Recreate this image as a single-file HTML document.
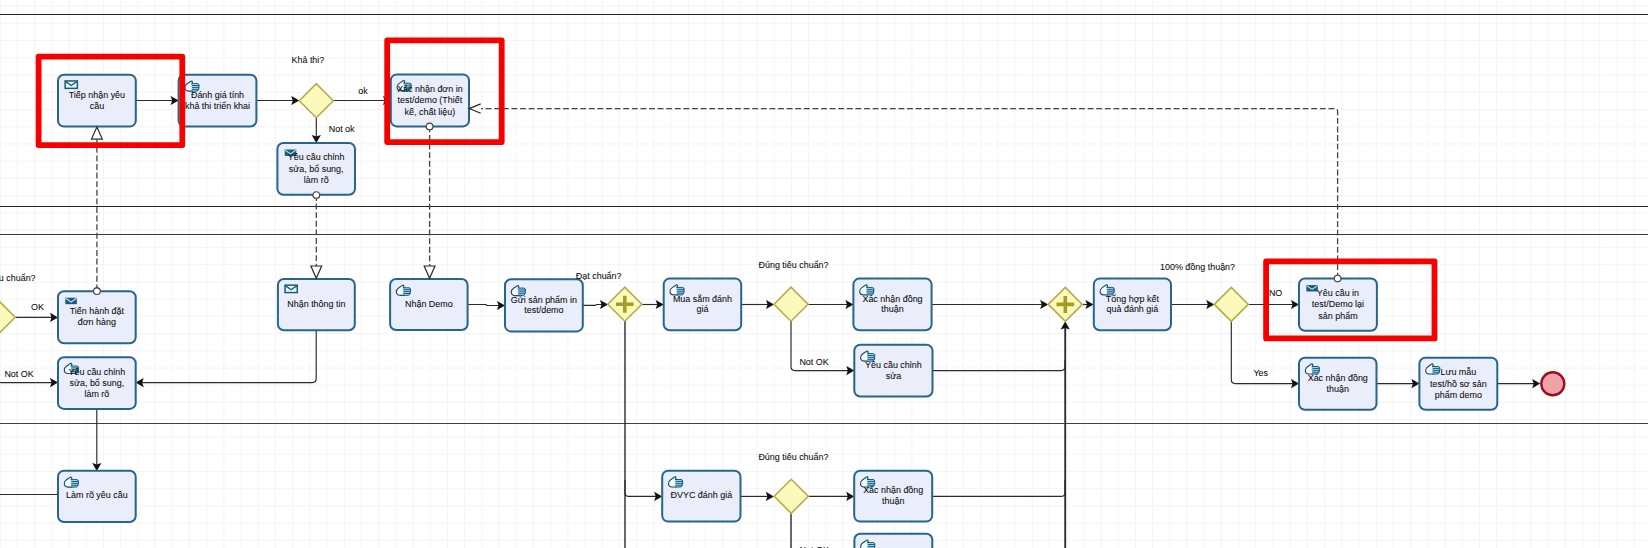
<!DOCTYPE html>
<html><head><meta charset="utf-8"><title>BPMN</title>
<style>
html,body{margin:0;padding:0;background:#fff;width:1648px;height:548px;overflow:hidden;}
svg{display:block;}
text{font-family:"Liberation Sans",sans-serif;}
</style></head><body>
<svg width="1648" height="548" viewBox="0 0 1648 548">
<rect width="1648" height="548" fill="#ffffff"/>
<path d="M0.30 0V548M17.50 0V548M34.70 0V548M51.90 0V548M69.10 0V548M86.30 0V548M103.49 0V548M120.69 0V548M137.89 0V548M155.09 0V548M172.29 0V548M189.49 0V548M206.69 0V548M223.89 0V548M241.09 0V548M258.29 0V548M275.48 0V548M292.68 0V548M309.88 0V548M327.08 0V548M344.28 0V548M361.48 0V548M378.68 0V548M395.88 0V548M413.08 0V548M430.28 0V548M447.47 0V548M464.67 0V548M481.87 0V548M499.07 0V548M516.27 0V548M533.47 0V548M550.67 0V548M567.87 0V548M585.07 0V548M602.26 0V548M619.46 0V548M636.66 0V548M653.86 0V548M671.06 0V548M688.26 0V548M705.46 0V548M722.66 0V548M739.86 0V548M757.06 0V548M774.25 0V548M791.45 0V548M808.65 0V548M825.85 0V548M843.05 0V548M860.25 0V548M877.45 0V548M894.65 0V548M911.85 0V548M929.05 0V548M946.24 0V548M963.44 0V548M980.64 0V548M997.84 0V548M1015.04 0V548M1032.24 0V548M1049.44 0V548M1066.64 0V548M1083.84 0V548M1101.04 0V548M1118.23 0V548M1135.43 0V548M1152.63 0V548M1169.83 0V548M1187.03 0V548M1204.23 0V548M1221.43 0V548M1238.63 0V548M1255.83 0V548M1273.03 0V548M1290.22 0V548M1307.42 0V548M1324.62 0V548M1341.82 0V548M1359.02 0V548M1376.22 0V548M1393.42 0V548M1410.62 0V548M1427.82 0V548M1445.02 0V548M1462.22 0V548M1479.41 0V548M1496.61 0V548M1513.81 0V548M1531.01 0V548M1548.21 0V548M1565.41 0V548M1582.61 0V548M1599.81 0V548M1617.01 0V548M1634.21 0V548M0 6.10H1648M0 23.34H1648M0 40.57H1648M0 57.80H1648M0 75.04H1648M0 92.27H1648M0 109.51H1648M0 126.74H1648M0 143.98H1648M0 161.21H1648M0 178.45H1648M0 195.69H1648M0 212.92H1648M0 230.16H1648M0 247.39H1648M0 264.63H1648M0 281.86H1648M0 299.10H1648M0 316.33H1648M0 333.57H1648M0 350.80H1648M0 368.04H1648M0 385.27H1648M0 402.51H1648M0 419.74H1648M0 436.98H1648M0 454.21H1648M0 471.45H1648M0 488.68H1648M0 505.92H1648M0 523.15H1648M0 540.39H1648" stroke="#f4f4f4" stroke-width="1" fill="none"/>
<rect x="0" y="14" width="1648" height="1" fill="#222"/>
<rect x="0" y="206" width="1648" height="1" fill="#222"/>
<rect x="0" y="234" width="1648" height="1" fill="#383838"/>
<rect x="0" y="423" width="1648" height="1" fill="#404040"/>
<g font-family="Liberation Sans, sans-serif" font-size="8.95" fill="#0a0a0a" stroke="#0a0a0a" stroke-width="0.06">
<path d="M96.9 291.2L96.9 140" fill="none" stroke="#464646" stroke-width="1.3" stroke-dasharray="5.9 2.7" stroke-dashoffset="-0.9"/>
<circle cx="96.9" cy="291.2" r="3.3" fill="#ffffff" stroke="#464646" stroke-width="1.1"/>
<path d="M316.3 195.0L316.3 267" fill="none" stroke="#464646" stroke-width="1.3" stroke-dasharray="5.9 2.7" stroke-dashoffset="0"/>
<circle cx="316.3" cy="195.0" r="3.3" fill="#ffffff" stroke="#464646" stroke-width="1.1"/>
<path d="M429.6 126.4L429.6 267" fill="none" stroke="#464646" stroke-width="1.3" stroke-dasharray="5.9 2.7" stroke-dashoffset="0"/>
<circle cx="429.6" cy="126.4" r="3.3" fill="#ffffff" stroke="#464646" stroke-width="1.1"/>
<path d="M1337.6 278.6L1337.60 111.60Q1337.6 108.6 1334.60 108.60L481 108.6" fill="none" stroke="#464646" stroke-width="1.3" stroke-dasharray="5.9 2.7" stroke-dashoffset="0"/>
<circle cx="1337.6" cy="278.6" r="3.3" fill="#ffffff" stroke="#464646" stroke-width="1.1"/>
<path d="M135.8 100.5L172.6 100.5" fill="none" stroke="#2a2a2a" stroke-width="1.15"/>
<path d="M178.60 100.50L170.60 95.90L172.20 100.50L170.60 105.10Z" fill="#111"/>
<path d="M256.4 100.5L293.3 100.5" fill="none" stroke="#2a2a2a" stroke-width="1.15"/>
<path d="M299.30 100.50L291.30 95.90L292.90 100.50L291.30 105.10Z" fill="#111"/>
<path d="M333.3 100.5L385 100.5" fill="none" stroke="#2a2a2a" stroke-width="1.15"/>
<path d="M391.00 100.50L383.00 95.90L384.60 100.50L383.00 105.10Z" fill="#111"/>
<path d="M316.3 117.7L316.3 137" fill="none" stroke="#2a2a2a" stroke-width="1.15"/>
<path d="M316.30 143.00L311.70 135.00L316.30 136.60L320.90 135.00Z" fill="#111"/>
<path d="M15.4 317.4L52.0 317.4" fill="none" stroke="#2a2a2a" stroke-width="1.15"/>
<path d="M58.00 317.40L50.00 312.80L51.60 317.40L50.00 322.00Z" fill="#111"/>
<path d="M-3 334L-3.00 378.60Q-3 382.6 1.00 382.60L52 382.6" fill="none" stroke="#2a2a2a" stroke-width="1.15"/>
<path d="M58.00 382.60L50.00 378.00L51.60 382.60L50.00 387.20Z" fill="#111"/>
<path d="M316.2 330.3L316.20 378.60Q316.2 382.6 312.20 382.60L141.7 382.6" fill="none" stroke="#2a2a2a" stroke-width="1.15"/>
<path d="M135.70 382.60L143.70 378.00L142.10 382.60L143.70 387.20Z" fill="#111"/>
<path d="M96.8 409L96.8 465" fill="none" stroke="#2a2a2a" stroke-width="1.15"/>
<path d="M96.80 471.00L92.20 463.00L96.80 464.60L101.40 463.00Z" fill="#111"/>
<path d="M0 494.5L58 494.5" fill="none" stroke="#2a2a2a" stroke-width="1.15"/>
<path d="M467.6 304.5L485.60 304.50Q486 304.5 486.28 304.78L486.72 305.22Q487 305.5 487.40 305.50L499.0 305.5" fill="none" stroke="#2a2a2a" stroke-width="1.15"/>
<path d="M505.00 305.50L497.00 300.90L498.60 305.50L497.00 310.10Z" fill="#111"/>
<path d="M582.8 305.4L595.10 305.40Q595.5 305.4 595.80 305.13L596.20 304.77Q596.5 304.5 596.90 304.50L602 304.5" fill="none" stroke="#2a2a2a" stroke-width="1.15"/>
<path d="M608.00 304.50L600.00 299.90L601.60 304.50L600.00 309.10Z" fill="#111"/>
<path d="M641.6 304.5L657.7 304.5" fill="none" stroke="#2a2a2a" stroke-width="1.15"/>
<path d="M663.70 304.50L655.70 299.90L657.30 304.50L655.70 309.10Z" fill="#111"/>
<path d="M625 321L625 548" fill="none" stroke="#2a2a2a" stroke-width="1.4"/>
<path d="M625 480L625.00 492.40Q625 496.4 629.00 496.40L656.2 496.4" fill="none" stroke="#2a2a2a" stroke-width="1.15"/>
<path d="M662.20 496.40L654.20 491.80L655.80 496.40L654.20 501.00Z" fill="#111"/>
<path d="M741.3 304.5L768 304.5" fill="none" stroke="#2a2a2a" stroke-width="1.15"/>
<path d="M774.00 304.50L766.00 299.90L767.60 304.50L766.00 309.10Z" fill="#111"/>
<path d="M808.2 304.5L847.4 304.5" fill="none" stroke="#2a2a2a" stroke-width="1.15"/>
<path d="M853.40 304.50L845.40 299.90L847.00 304.50L845.40 309.10Z" fill="#111"/>
<path d="M791 321L791.00 366.60Q791 370.6 795.00 370.60L848.3 370.6" fill="none" stroke="#2a2a2a" stroke-width="1.15"/>
<path d="M854.30 370.60L846.30 366.00L847.90 370.60L846.30 375.20Z" fill="#111"/>
<path d="M931.6 304.5L1042.2 304.5" fill="none" stroke="#2a2a2a" stroke-width="1.15"/>
<path d="M1048.20 304.50L1040.20 299.90L1041.80 304.50L1040.20 309.10Z" fill="#111"/>
<path d="M932.5 370.6L1061.00 370.60Q1065 370.6 1065.00 366.60L1065 360" fill="none" stroke="#2a2a2a" stroke-width="1.15"/>
<path d="M1065.2 548L1065.2 327.6" fill="none" stroke="#2a2a2a" stroke-width="1.8"/>
<path d="M1065.20 321.60L1060.60 329.60L1065.20 328.00L1069.80 329.60Z" fill="#111"/>
<path d="M932.2 496.4L1061.00 496.40Q1065 496.4 1065.00 492.40L1065 480" fill="none" stroke="#2a2a2a" stroke-width="1.15"/>
<path d="M1082.4 304.5L1087.5 304.5" fill="none" stroke="#2a2a2a" stroke-width="1.15"/>
<path d="M1093.50 304.50L1085.50 299.90L1087.10 304.50L1085.50 309.10Z" fill="#111"/>
<path d="M1171.0 304.5L1208.3 304.5" fill="none" stroke="#2a2a2a" stroke-width="1.15"/>
<path d="M1214.30 304.50L1206.30 299.90L1207.90 304.50L1206.30 309.10Z" fill="#111"/>
<path d="M1248.3 304.5L1293.0 304.5" fill="none" stroke="#2a2a2a" stroke-width="1.15"/>
<path d="M1299.00 304.50L1291.00 299.90L1292.60 304.50L1291.00 309.10Z" fill="#111"/>
<path d="M1231.3 321.4L1231.30 379.60Q1231.3 383.6 1235.30 383.60L1293.0 383.6" fill="none" stroke="#2a2a2a" stroke-width="1.15"/>
<path d="M1299.00 383.60L1291.00 379.00L1292.60 383.60L1291.00 388.20Z" fill="#111"/>
<path d="M1376.5 383.6L1413.4 383.6" fill="none" stroke="#2a2a2a" stroke-width="1.15"/>
<path d="M1419.40 383.60L1411.40 379.00L1413.00 383.60L1411.40 388.20Z" fill="#111"/>
<path d="M1497.3 383.6L1534.2 383.6" fill="none" stroke="#2a2a2a" stroke-width="1.15"/>
<path d="M1540.20 383.60L1532.20 379.00L1533.80 383.60L1532.20 388.20Z" fill="#111"/>
<path d="M740.5 496.4L767.8 496.4" fill="none" stroke="#2a2a2a" stroke-width="1.15"/>
<path d="M773.80 496.40L765.80 491.80L767.40 496.40L765.80 501.00Z" fill="#111"/>
<path d="M808.7 496.4L848.2 496.4" fill="none" stroke="#2a2a2a" stroke-width="1.15"/>
<path d="M854.20 496.40L846.20 491.80L847.80 496.40L846.20 501.00Z" fill="#111"/>
<path d="M791 513.4L791 548" fill="none" stroke="#2a2a2a" stroke-width="1.4"/>
<path d="M299.3 100.7L316.3 83.7L333.3 100.7L316.3 117.7Z" fill="#fcf9bd" stroke="#b3ad4a" stroke-width="1.6"/>
<path d="M-18.8 317.2L-1.8 300.2L15.2 317.2L-1.8 334.2Z" fill="#fcf9bd" stroke="#b3ad4a" stroke-width="1.6"/>
<path d="M607.8 304.2L624.8 287.2L641.8 304.2L624.8 321.2Z" fill="#fcf9bd" stroke="#b3ad4a" stroke-width="1.6"/>
<path d="M616.0 304.2H633.5999999999999M624.8 295.7V312.7" stroke="#a39e22" stroke-width="3.6"/>
<path d="M774.0 304.2L791.0 287.2L808.0 304.2L791.0 321.2Z" fill="#fcf9bd" stroke="#b3ad4a" stroke-width="1.6"/>
<path d="M1048.3 304.4L1065.3 287.4L1082.3 304.4L1065.3 321.4Z" fill="#fcf9bd" stroke="#b3ad4a" stroke-width="1.6"/>
<path d="M1056.5 304.4H1074.1M1065.3 295.9V312.9" stroke="#a39e22" stroke-width="3.6"/>
<path d="M1214.3 304.4L1231.3 287.4L1248.3 304.4L1231.3 321.4Z" fill="#fcf9bd" stroke="#b3ad4a" stroke-width="1.6"/>
<path d="M774.2 496.3L791.2 479.3L808.2 496.3L791.2 513.3Z" fill="#fcf9bd" stroke="#b3ad4a" stroke-width="1.6"/>
<rect x="58.0" y="74.8" width="77.80000000000001" height="51.8" rx="6" fill="#eaedfa" stroke="#27658d" stroke-width="2"/>
<g transform="translate(64.4,80.2)"><rect x="0.75" y="0.75" width="12.2" height="7.4" fill="#e4fbff" stroke="#1d5a73" stroke-width="1.5"/><path d="M1 1.2L6.85 5.3L12.7 1.2" fill="none" stroke="#1d5a73" stroke-width="1.4"/></g>
<text transform="translate(96.90,97.90) scale(1.0,1)" text-anchor="middle">Tiếp nhận yêu</text>
<text transform="translate(96.90,108.70) scale(1.0,1)" text-anchor="middle">cầu</text>
<rect x="178.6" y="74.8" width="77.79999999999998" height="51.7" rx="6" fill="#eaedfa" stroke="#27658d" stroke-width="2"/>
<g transform="translate(184.4,80.8)"><path d="M7.6 2.8 L8.0 1.3 Q7.9 -0.2 6.5 0.4 L2.7 3.0 Q0.3 4.6 0.5 7.0 Q0.8 10.2 3.9 10.3 L8.6 10.3" fill="#f4fdff" stroke="#1b4a66" stroke-width="1.15"/><path d="M6.9 2.8 H13.0 Q14.7 2.8 14.7 4.6 V8.3 Q14.7 10.3 12.7 10.3 H7.2 Z" fill="#a6e2fb"/><path d="M6.9 2.8 H13.1 M7.6 4.7 H14.4 M7.6 6.6 H14.6 M7.4 8.5 H14.2 M7.2 10.3 H12.8 M13.1 2.8 Q14.8 3.0 14.7 4.7 Q14.8 9.2 12.8 10.3" fill="none" stroke="#124e74" stroke-width="0.95"/></g>
<text transform="translate(217.50,97.85) scale(1.0,1)" text-anchor="middle">Đánh giá tính</text>
<text transform="translate(217.50,108.65) scale(1.0,1)" text-anchor="middle">khả thi triển khai</text>
<rect x="390.8" y="74.4" width="78.19999999999999" height="52.0" rx="6" fill="#eaedfa" stroke="#27658d" stroke-width="2"/>
<g transform="translate(396.6,80.4)"><path d="M7.6 2.8 L8.0 1.3 Q7.9 -0.2 6.5 0.4 L2.7 3.0 Q0.3 4.6 0.5 7.0 Q0.8 10.2 3.9 10.3 L8.6 10.3" fill="#f4fdff" stroke="#1b4a66" stroke-width="1.15"/><path d="M6.9 2.8 H13.0 Q14.7 2.8 14.7 4.6 V8.3 Q14.7 10.3 12.7 10.3 H7.2 Z" fill="#a6e2fb"/><path d="M6.9 2.8 H13.1 M7.6 4.7 H14.4 M7.6 6.6 H14.6 M7.4 8.5 H14.2 M7.2 10.3 H12.8 M13.1 2.8 Q14.8 3.0 14.7 4.7 Q14.8 9.2 12.8 10.3" fill="none" stroke="#124e74" stroke-width="0.95"/></g>
<text transform="translate(429.90,91.85) scale(1.0,1)" text-anchor="middle">Xác nhận đơn in</text>
<text transform="translate(429.90,103.20) scale(1.0,1)" text-anchor="middle">test/demo (Thiết</text>
<text transform="translate(429.90,114.55) scale(1.0,1)" text-anchor="middle">kế, chất liệu)</text>
<rect x="277.4" y="143.0" width="77.60000000000002" height="51.80000000000001" rx="6" fill="#eaedfa" stroke="#27658d" stroke-width="2"/>
<g transform="translate(284.79999999999995,149.6)"><rect x="0" y="0" width="11.4" height="6.3" fill="#1b5b7c"/><path d="M0.3 0.5L5.7 4.3L11.1 0.5" fill="none" stroke="#b8f0ff" stroke-width="1.1"/></g>
<text transform="translate(316.20,160.35) scale(1.0,1)" text-anchor="middle">Yêu cầu chỉnh</text>
<text transform="translate(316.20,171.70) scale(1.0,1)" text-anchor="middle">sửa, bổ sung,</text>
<text transform="translate(316.20,183.05) scale(1.0,1)" text-anchor="middle">làm rõ</text>
<rect x="58.0" y="291.2" width="77.69999999999999" height="52.0" rx="6" fill="#eaedfa" stroke="#27658d" stroke-width="2"/>
<g transform="translate(65.4,297.8)"><rect x="0" y="0" width="11.4" height="6.3" fill="#1b5b7c"/><path d="M0.3 0.5L5.7 4.3L11.1 0.5" fill="none" stroke="#b8f0ff" stroke-width="1.1"/></g>
<text transform="translate(96.85,314.40) scale(1.0,1)" text-anchor="middle">Tiến hành đặt</text>
<text transform="translate(96.85,325.20) scale(1.0,1)" text-anchor="middle">đơn hàng</text>
<rect x="58.0" y="357.2" width="77.69999999999999" height="51.69999999999999" rx="6" fill="#eaedfa" stroke="#27658d" stroke-width="2"/>
<g transform="translate(63.8,363.2)"><path d="M7.6 2.8 L8.0 1.3 Q7.9 -0.2 6.5 0.4 L2.7 3.0 Q0.3 4.6 0.5 7.0 Q0.8 10.2 3.9 10.3 L8.6 10.3" fill="#f4fdff" stroke="#1b4a66" stroke-width="1.15"/><path d="M6.9 2.8 H13.0 Q14.7 2.8 14.7 4.6 V8.3 Q14.7 10.3 12.7 10.3 H7.2 Z" fill="#a6e2fb"/><path d="M6.9 2.8 H13.1 M7.6 4.7 H14.4 M7.6 6.6 H14.6 M7.4 8.5 H14.2 M7.2 10.3 H12.8 M13.1 2.8 Q14.8 3.0 14.7 4.7 Q14.8 9.2 12.8 10.3" fill="none" stroke="#124e74" stroke-width="0.95"/></g>
<text transform="translate(96.85,374.50) scale(1.0,1)" text-anchor="middle">Yêu cầu chỉnh</text>
<text transform="translate(96.85,385.85) scale(1.0,1)" text-anchor="middle">sửa, bổ sung,</text>
<text transform="translate(96.85,397.20) scale(1.0,1)" text-anchor="middle">làm rõ</text>
<rect x="58.0" y="470.8" width="77.69999999999999" height="51.19999999999999" rx="6" fill="#eaedfa" stroke="#27658d" stroke-width="2"/>
<g transform="translate(63.8,476.8)"><path d="M7.6 2.8 L8.0 1.3 Q7.9 -0.2 6.5 0.4 L2.7 3.0 Q0.3 4.6 0.5 7.0 Q0.8 10.2 3.9 10.3 L8.6 10.3" fill="#f4fdff" stroke="#1b4a66" stroke-width="1.15"/><path d="M6.9 2.8 H13.0 Q14.7 2.8 14.7 4.6 V8.3 Q14.7 10.3 12.7 10.3 H7.2 Z" fill="#a6e2fb"/><path d="M6.9 2.8 H13.1 M7.6 4.7 H14.4 M7.6 6.6 H14.6 M7.4 8.5 H14.2 M7.2 10.3 H12.8 M13.1 2.8 Q14.8 3.0 14.7 4.7 Q14.8 9.2 12.8 10.3" fill="none" stroke="#124e74" stroke-width="0.95"/></g>
<text transform="translate(96.85,498.40) scale(1.0,1)" text-anchor="middle">Làm rõ yêu cầu</text>
<rect x="277.9" y="279.0" width="76.90000000000003" height="51.30000000000001" rx="6" fill="#eaedfa" stroke="#27658d" stroke-width="2"/>
<g transform="translate(284.29999999999995,284.4)"><rect x="0.75" y="0.75" width="12.2" height="7.4" fill="#e4fbff" stroke="#1d5a73" stroke-width="1.5"/><path d="M1 1.2L6.85 5.3L12.7 1.2" fill="none" stroke="#1d5a73" stroke-width="1.4"/></g>
<text transform="translate(316.35,306.65) scale(1.0,1)" text-anchor="middle">Nhận thông tin</text>
<rect x="390.1" y="279.0" width="77.5" height="51.0" rx="6" fill="#eaedfa" stroke="#27658d" stroke-width="2"/>
<g transform="translate(395.90000000000003,285.0)"><path d="M7.6 2.8 L8.0 1.3 Q7.9 -0.2 6.5 0.4 L2.7 3.0 Q0.3 4.6 0.5 7.0 Q0.8 10.2 3.9 10.3 L8.6 10.3" fill="#f4fdff" stroke="#1b4a66" stroke-width="1.15"/><path d="M6.9 2.8 H13.0 Q14.7 2.8 14.7 4.6 V8.3 Q14.7 10.3 12.7 10.3 H7.2 Z" fill="#a6e2fb"/><path d="M6.9 2.8 H13.1 M7.6 4.7 H14.4 M7.6 6.6 H14.6 M7.4 8.5 H14.2 M7.2 10.3 H12.8 M13.1 2.8 Q14.8 3.0 14.7 4.7 Q14.8 9.2 12.8 10.3" fill="none" stroke="#124e74" stroke-width="0.95"/></g>
<text transform="translate(428.85,306.50) scale(1.0,1)" text-anchor="middle">Nhận Demo</text>
<rect x="505.0" y="279.3" width="77.79999999999995" height="52.099999999999966" rx="6" fill="#eaedfa" stroke="#27658d" stroke-width="2"/>
<g transform="translate(510.8,285.3)"><path d="M7.6 2.8 L8.0 1.3 Q7.9 -0.2 6.5 0.4 L2.7 3.0 Q0.3 4.6 0.5 7.0 Q0.8 10.2 3.9 10.3 L8.6 10.3" fill="#f4fdff" stroke="#1b4a66" stroke-width="1.15"/><path d="M6.9 2.8 H13.0 Q14.7 2.8 14.7 4.6 V8.3 Q14.7 10.3 12.7 10.3 H7.2 Z" fill="#a6e2fb"/><path d="M6.9 2.8 H13.1 M7.6 4.7 H14.4 M7.6 6.6 H14.6 M7.4 8.5 H14.2 M7.2 10.3 H12.8 M13.1 2.8 Q14.8 3.0 14.7 4.7 Q14.8 9.2 12.8 10.3" fill="none" stroke="#124e74" stroke-width="0.95"/></g>
<text transform="translate(543.90,302.55) scale(1.0,1)" text-anchor="middle">Gửi sản phẩm in</text>
<text transform="translate(543.90,313.35) scale(1.0,1)" text-anchor="middle">test/demo</text>
<rect x="663.7" y="278.6" width="77.5" height="51.599999999999966" rx="6" fill="#eaedfa" stroke="#27658d" stroke-width="2"/>
<g transform="translate(669.5,284.6)"><path d="M7.6 2.8 L8.0 1.3 Q7.9 -0.2 6.5 0.4 L2.7 3.0 Q0.3 4.6 0.5 7.0 Q0.8 10.2 3.9 10.3 L8.6 10.3" fill="#f4fdff" stroke="#1b4a66" stroke-width="1.15"/><path d="M6.9 2.8 H13.0 Q14.7 2.8 14.7 4.6 V8.3 Q14.7 10.3 12.7 10.3 H7.2 Z" fill="#a6e2fb"/><path d="M6.9 2.8 H13.1 M7.6 4.7 H14.4 M7.6 6.6 H14.6 M7.4 8.5 H14.2 M7.2 10.3 H12.8 M13.1 2.8 Q14.8 3.0 14.7 4.7 Q14.8 9.2 12.8 10.3" fill="none" stroke="#124e74" stroke-width="0.95"/></g>
<text transform="translate(702.45,301.60) scale(1.0,1)" text-anchor="middle">Mua sắm đánh</text>
<text transform="translate(702.45,312.40) scale(1.0,1)" text-anchor="middle">giá</text>
<rect x="853.4" y="278.6" width="78.20000000000005" height="51.599999999999966" rx="6" fill="#eaedfa" stroke="#27658d" stroke-width="2"/>
<g transform="translate(859.1999999999999,284.6)"><path d="M7.6 2.8 L8.0 1.3 Q7.9 -0.2 6.5 0.4 L2.7 3.0 Q0.3 4.6 0.5 7.0 Q0.8 10.2 3.9 10.3 L8.6 10.3" fill="#f4fdff" stroke="#1b4a66" stroke-width="1.15"/><path d="M6.9 2.8 H13.0 Q14.7 2.8 14.7 4.6 V8.3 Q14.7 10.3 12.7 10.3 H7.2 Z" fill="#a6e2fb"/><path d="M6.9 2.8 H13.1 M7.6 4.7 H14.4 M7.6 6.6 H14.6 M7.4 8.5 H14.2 M7.2 10.3 H12.8 M13.1 2.8 Q14.8 3.0 14.7 4.7 Q14.8 9.2 12.8 10.3" fill="none" stroke="#124e74" stroke-width="0.95"/></g>
<text transform="translate(892.50,301.60) scale(1.0,1)" text-anchor="middle">Xác nhận đồng</text>
<text transform="translate(892.50,312.40) scale(1.0,1)" text-anchor="middle">thuận</text>
<rect x="854.3" y="344.8" width="78.20000000000005" height="51.69999999999999" rx="6" fill="#eaedfa" stroke="#27658d" stroke-width="2"/>
<g transform="translate(860.0999999999999,350.8)"><path d="M7.6 2.8 L8.0 1.3 Q7.9 -0.2 6.5 0.4 L2.7 3.0 Q0.3 4.6 0.5 7.0 Q0.8 10.2 3.9 10.3 L8.6 10.3" fill="#f4fdff" stroke="#1b4a66" stroke-width="1.15"/><path d="M6.9 2.8 H13.0 Q14.7 2.8 14.7 4.6 V8.3 Q14.7 10.3 12.7 10.3 H7.2 Z" fill="#a6e2fb"/><path d="M6.9 2.8 H13.1 M7.6 4.7 H14.4 M7.6 6.6 H14.6 M7.4 8.5 H14.2 M7.2 10.3 H12.8 M13.1 2.8 Q14.8 3.0 14.7 4.7 Q14.8 9.2 12.8 10.3" fill="none" stroke="#124e74" stroke-width="0.95"/></g>
<text transform="translate(893.40,367.85) scale(1.0,1)" text-anchor="middle">Yêu cầu chỉnh</text>
<text transform="translate(893.40,378.65) scale(1.0,1)" text-anchor="middle">sửa</text>
<rect x="1093.8" y="278.6" width="77.20000000000005" height="51.69999999999999" rx="6" fill="#eaedfa" stroke="#27658d" stroke-width="2"/>
<g transform="translate(1099.6,284.6)"><path d="M7.6 2.8 L8.0 1.3 Q7.9 -0.2 6.5 0.4 L2.7 3.0 Q0.3 4.6 0.5 7.0 Q0.8 10.2 3.9 10.3 L8.6 10.3" fill="#f4fdff" stroke="#1b4a66" stroke-width="1.15"/><path d="M6.9 2.8 H13.0 Q14.7 2.8 14.7 4.6 V8.3 Q14.7 10.3 12.7 10.3 H7.2 Z" fill="#a6e2fb"/><path d="M6.9 2.8 H13.1 M7.6 4.7 H14.4 M7.6 6.6 H14.6 M7.4 8.5 H14.2 M7.2 10.3 H12.8 M13.1 2.8 Q14.8 3.0 14.7 4.7 Q14.8 9.2 12.8 10.3" fill="none" stroke="#124e74" stroke-width="0.95"/></g>
<text transform="translate(1132.40,301.65) scale(1.0,1)" text-anchor="middle">Tổng hợp kết</text>
<text transform="translate(1132.40,312.45) scale(1.0,1)" text-anchor="middle">quả đánh giá</text>
<rect x="1299.0" y="278.5" width="77.90000000000009" height="52.19999999999999" rx="6" fill="#eaedfa" stroke="#27658d" stroke-width="2"/>
<g transform="translate(1306.4,285.1)"><rect x="0" y="0" width="11.4" height="6.3" fill="#1b5b7c"/><path d="M0.3 0.5L5.7 4.3L11.1 0.5" fill="none" stroke="#b8f0ff" stroke-width="1.1"/></g>
<text transform="translate(1337.95,296.05) scale(1.0,1)" text-anchor="middle">Yêu cầu in</text>
<text transform="translate(1337.95,307.40) scale(1.0,1)" text-anchor="middle">test/Demo lại</text>
<text transform="translate(1337.95,318.75) scale(1.0,1)" text-anchor="middle">sản phẩm</text>
<rect x="1299.0" y="357.7" width="77.5" height="52.10000000000002" rx="6" fill="#eaedfa" stroke="#27658d" stroke-width="2"/>
<g transform="translate(1304.8,363.7)"><path d="M7.6 2.8 L8.0 1.3 Q7.9 -0.2 6.5 0.4 L2.7 3.0 Q0.3 4.6 0.5 7.0 Q0.8 10.2 3.9 10.3 L8.6 10.3" fill="#f4fdff" stroke="#1b4a66" stroke-width="1.15"/><path d="M6.9 2.8 H13.0 Q14.7 2.8 14.7 4.6 V8.3 Q14.7 10.3 12.7 10.3 H7.2 Z" fill="#a6e2fb"/><path d="M6.9 2.8 H13.1 M7.6 4.7 H14.4 M7.6 6.6 H14.6 M7.4 8.5 H14.2 M7.2 10.3 H12.8 M13.1 2.8 Q14.8 3.0 14.7 4.7 Q14.8 9.2 12.8 10.3" fill="none" stroke="#124e74" stroke-width="0.95"/></g>
<text transform="translate(1337.75,380.95) scale(1.0,1)" text-anchor="middle">Xác nhận đồng</text>
<text transform="translate(1337.75,391.75) scale(1.0,1)" text-anchor="middle">thuận</text>
<rect x="1419.4" y="357.7" width="77.89999999999986" height="52.10000000000002" rx="6" fill="#eaedfa" stroke="#27658d" stroke-width="2"/>
<g transform="translate(1425.2,363.7)"><path d="M7.6 2.8 L8.0 1.3 Q7.9 -0.2 6.5 0.4 L2.7 3.0 Q0.3 4.6 0.5 7.0 Q0.8 10.2 3.9 10.3 L8.6 10.3" fill="#f4fdff" stroke="#1b4a66" stroke-width="1.15"/><path d="M6.9 2.8 H13.0 Q14.7 2.8 14.7 4.6 V8.3 Q14.7 10.3 12.7 10.3 H7.2 Z" fill="#a6e2fb"/><path d="M6.9 2.8 H13.1 M7.6 4.7 H14.4 M7.6 6.6 H14.6 M7.4 8.5 H14.2 M7.2 10.3 H12.8 M13.1 2.8 Q14.8 3.0 14.7 4.7 Q14.8 9.2 12.8 10.3" fill="none" stroke="#124e74" stroke-width="0.95"/></g>
<text transform="translate(1458.35,375.20) scale(1.0,1)" text-anchor="middle">Lưu mẫu</text>
<text transform="translate(1458.35,386.55) scale(1.0,1)" text-anchor="middle">test/hồ sơ sản</text>
<text transform="translate(1458.35,397.90) scale(1.0,1)" text-anchor="middle">phẩm demo</text>
<rect x="662.2" y="470.7" width="78.29999999999995" height="50.900000000000034" rx="6" fill="#eaedfa" stroke="#27658d" stroke-width="2"/>
<g transform="translate(668.0,476.7)"><path d="M7.6 2.8 L8.0 1.3 Q7.9 -0.2 6.5 0.4 L2.7 3.0 Q0.3 4.6 0.5 7.0 Q0.8 10.2 3.9 10.3 L8.6 10.3" fill="#f4fdff" stroke="#1b4a66" stroke-width="1.15"/><path d="M6.9 2.8 H13.0 Q14.7 2.8 14.7 4.6 V8.3 Q14.7 10.3 12.7 10.3 H7.2 Z" fill="#a6e2fb"/><path d="M6.9 2.8 H13.1 M7.6 4.7 H14.4 M7.6 6.6 H14.6 M7.4 8.5 H14.2 M7.2 10.3 H12.8 M13.1 2.8 Q14.8 3.0 14.7 4.7 Q14.8 9.2 12.8 10.3" fill="none" stroke="#124e74" stroke-width="0.95"/></g>
<text transform="translate(701.35,498.15) scale(1.0,1)" text-anchor="middle">ĐVYC đánh giá</text>
<rect x="854.2" y="470.7" width="78.0" height="50.900000000000034" rx="6" fill="#eaedfa" stroke="#27658d" stroke-width="2"/>
<g transform="translate(860.0,476.7)"><path d="M7.6 2.8 L8.0 1.3 Q7.9 -0.2 6.5 0.4 L2.7 3.0 Q0.3 4.6 0.5 7.0 Q0.8 10.2 3.9 10.3 L8.6 10.3" fill="#f4fdff" stroke="#1b4a66" stroke-width="1.15"/><path d="M6.9 2.8 H13.0 Q14.7 2.8 14.7 4.6 V8.3 Q14.7 10.3 12.7 10.3 H7.2 Z" fill="#a6e2fb"/><path d="M6.9 2.8 H13.1 M7.6 4.7 H14.4 M7.6 6.6 H14.6 M7.4 8.5 H14.2 M7.2 10.3 H12.8 M13.1 2.8 Q14.8 3.0 14.7 4.7 Q14.8 9.2 12.8 10.3" fill="none" stroke="#124e74" stroke-width="0.95"/></g>
<text transform="translate(893.20,493.35) scale(1.0,1)" text-anchor="middle">Xác nhận đồng</text>
<text transform="translate(893.20,504.15) scale(1.0,1)" text-anchor="middle">thuận</text>
<rect x="854.4" y="533.8" width="77.89999999999998" height="51.80000000000007" rx="6" fill="#eaedfa" stroke="#27658d" stroke-width="2"/>
<g transform="translate(860.1999999999999,539.8)"><path d="M7.6 2.8 L8.0 1.3 Q7.9 -0.2 6.5 0.4 L2.7 3.0 Q0.3 4.6 0.5 7.0 Q0.8 10.2 3.9 10.3 L8.6 10.3" fill="#f4fdff" stroke="#1b4a66" stroke-width="1.15"/><path d="M6.9 2.8 H13.0 Q14.7 2.8 14.7 4.6 V8.3 Q14.7 10.3 12.7 10.3 H7.2 Z" fill="#a6e2fb"/><path d="M6.9 2.8 H13.1 M7.6 4.7 H14.4 M7.6 6.6 H14.6 M7.4 8.5 H14.2 M7.2 10.3 H12.8 M13.1 2.8 Q14.8 3.0 14.7 4.7 Q14.8 9.2 12.8 10.3" fill="none" stroke="#124e74" stroke-width="0.95"/></g>
<text transform="translate(893.35,556.90) scale(1.0,1)" text-anchor="middle">Yêu cầu chỉnh</text>
<text transform="translate(893.35,567.70) scale(1.0,1)" text-anchor="middle">sửa</text>
<path d="M96.9 126.9L91.5 139.1L102.30000000000001 139.1Z" fill="#ffffff" stroke="#2a2a2a" stroke-width="1.2" stroke-linejoin="miter"/>
<path d="M316.3 278.2L310.90000000000003 266.0L321.7 266.0Z" fill="#ffffff" stroke="#2a2a2a" stroke-width="1.2" stroke-linejoin="miter"/>
<path d="M429.6 278.2L424.20000000000005 266.0L435.0 266.0Z" fill="#ffffff" stroke="#2a2a2a" stroke-width="1.2" stroke-linejoin="miter"/>
<path d="M480.7 103.89999999999999L469.2 108.6L480.7 113.3" fill="none" stroke="#2a2a2a" stroke-width="1.2"/>
<circle cx="96.9" cy="291.2" r="3.3" fill="#ffffff" stroke="#464646" stroke-width="1.1"/>
<circle cx="316.3" cy="195.0" r="3.3" fill="#ffffff" stroke="#464646" stroke-width="1.1"/>
<circle cx="429.6" cy="126.4" r="3.3" fill="#ffffff" stroke="#464646" stroke-width="1.1"/>
<circle cx="1337.6" cy="278.6" r="3.3" fill="#ffffff" stroke="#464646" stroke-width="1.1"/>
<circle cx="1552.8" cy="383.8" r="11.5" fill="#efa3a6" stroke="#9a0f22" stroke-width="2.4"/>
<text transform="translate(291.5,62.5) scale(1.0,1)" text-anchor="start">Khả thi?</text>
<text transform="translate(358.2,94.2) scale(1.0,1)" text-anchor="start">ok</text>
<text transform="translate(328.7,132.0) scale(1.0,1)" text-anchor="start">Not ok</text>
<text transform="translate(35.6,281.0) scale(1.0,1)" text-anchor="end">Đúng tiêu chuẩn?</text>
<text transform="translate(31.0,309.6) scale(1.0,1)" text-anchor="start">OK</text>
<text transform="translate(4.4,376.6) scale(1.0,1)" text-anchor="start">Not OK</text>
<text transform="translate(575.8,279.3) scale(1.0,1)" text-anchor="start">Đạt chuẩn?</text>
<text transform="translate(758.5,267.9) scale(1.0,1)" text-anchor="start">Đúng tiêu chuẩn?</text>
<text transform="translate(799.4,364.8) scale(1.0,1)" text-anchor="start">Not OK</text>
<text transform="translate(1160.0,270.3) scale(1.0,1)" text-anchor="start">100% đồng thuận?</text>
<text transform="translate(1268.9,295.8) scale(1.0,1)" text-anchor="start">NO</text>
<text transform="translate(1253.4,375.9) scale(1.0,1)" text-anchor="start">Yes</text>
<text transform="translate(758.4,460.3) scale(1.0,1)" text-anchor="start">Đúng tiêu chuẩn?</text>
<text transform="translate(799.6,552.5) scale(1.0,1)" text-anchor="start">Not OK</text>
</g>
<rect x="38.60" y="56.70" width="143.70" height="88.40" fill="none" stroke="#f70000" stroke-width="5.8" stroke-linejoin="round"/>
<rect x="387.20" y="40.30" width="114.50" height="101.80" fill="none" stroke="#f70000" stroke-width="5.8" stroke-linejoin="round"/>
<rect x="1266.10" y="261.40" width="168.40" height="77.00" fill="none" stroke="#f70000" stroke-width="5.8" stroke-linejoin="round"/>
</svg>
</body></html>
